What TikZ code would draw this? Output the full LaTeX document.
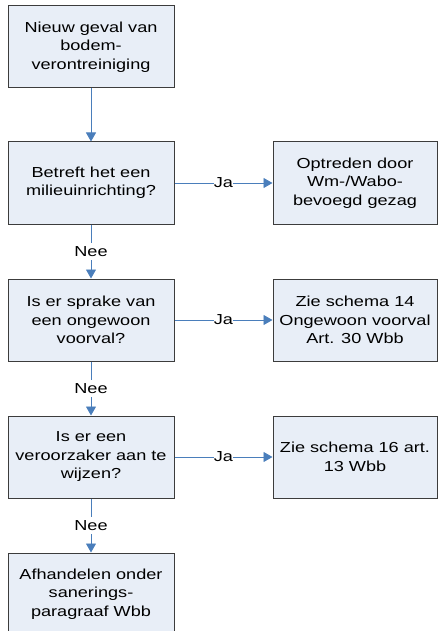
\documentclass[tikz,border=0pt]{standalone}
\usepackage{fontspec}
\setmainfont{Liberation Sans}[FakeStretch=1.25]
\usetikzlibrary{arrows.meta}
\definecolor{boxfill}{HTML}{E8EEF7}
\definecolor{boxline}{HTML}{3C3C3C}
\definecolor{arr}{HTML}{4A7EBB}
\begin{document}
\begin{tikzpicture}[x=1pt,y=-1pt,
  box/.style={draw=boxline, fill=boxfill, line width=1pt, minimum height=82pt,
    align=center, inner sep=0pt, font=\fontsize{14.5}{18.5}\selectfont},
  lbox/.style={box, minimum width=166pt},
  rbox/.style={box, minimum width=164pt},
  conn/.style={draw=arr, line width=0.9pt, -{Triangle[length=9pt,width=10pt]}},
  lbl/.style={fill=white, inner xsep=0pt, inner ysep=3pt, font=\fontsize{14.5}{17}\selectfont}]
\useasboundingbox (0,0) rectangle (438,631);
\node[lbox] (n1) at (91,47) {Nieuw geval van\\bodem-\\verontreiniging};
\node[lbox] (n2) at (91,183) {Betreft het een\\milieuinrichting?};
\node[lbox] (n3) at (91,320) {Is er sprake van\\een ongewoon\\voorval?};
\node[lbox] (n4) at (91,457) {Is er een\\veroorzaker aan te\\wijzen?};
\node[lbox] (n5) at (91,594) {Afhandelen onder\\sanerings-\\paragraaf Wbb};
\node[rbox] (r2) at (355,183) {Optreden door\\Wm-/Wabo-\\bevoegd gezag};
\node[rbox] (r3) at (355,320) {Zie schema 14\\Ongewoon voorval\\Art. 30 Wbb};
\node[rbox] (r4) at (355,457) {Zie schema 16 art.\\13 Wbb};
\draw[conn] (n1) -- (n2);
\draw[conn] (n2) -- node[lbl] {Nee} (n3);
\draw[conn] (n3) -- node[lbl] {Nee} (n4);
\draw[conn] (n4) -- node[lbl] {Nee} (n5);
\draw[conn] (n2) -- node[lbl] {Ja} (r2);
\draw[conn] (n3) -- node[lbl] {Ja} (r3);
\draw[conn] (n4) -- node[lbl] {Ja} (r4);
\end{tikzpicture}
\end{document}
